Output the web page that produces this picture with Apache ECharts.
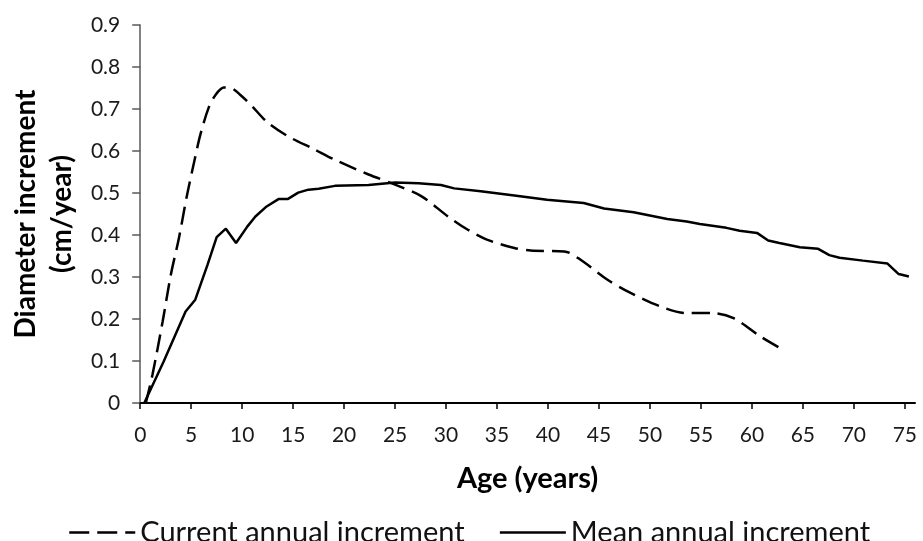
<!DOCTYPE html>
<html>
<head>
<meta charset="utf-8">
<script src="https://cdn.jsdelivr.net/npm/echarts@6/dist/echarts.min.js"></script>
<style>html,body{margin:0;padding:0;background:#fff}#c{width:923px;height:541px}</style>
</head>
<body>
<div id="c"></div>
<script>
const caiAges = [0.55, 1.2, 2.2, 3.0, 3.8, 4.6, 5.3, 5.9, 6.7, 7.4, 8.2, 8.9, 9.8, 11, 12.4, 14.5, 17, 19.1, 22.4, 25, 27.6, 30.2, 32.1, 34, 36.7, 38.3, 41.6, 43.2, 45.8, 48.1, 51, 53.6, 56.2, 58.2, 60.8, 62.6];
const caiValues = [0, 0.067, 0.194, 0.305, 0.393, 0.496, 0.575, 0.639, 0.702, 0.734, 0.751, 0.75, 0.734, 0.706, 0.67, 0.635, 0.605, 0.579, 0.544, 0.52, 0.492, 0.444, 0.413, 0.389, 0.369, 0.363, 0.361, 0.341, 0.294, 0.262, 0.23, 0.214, 0.214, 0.202, 0.159, 0.133];
const maiAges = [0.4, 2.3, 4.45, 5.4, 6.6, 7.5, 8.4, 9.4, 10.5, 11.3, 12.4, 13.6, 14.5, 15.5, 16.5, 17.5, 19.1, 22.4, 25, 27.3, 29.5, 30.8, 33.4, 36.7, 39.9, 43.5, 45.5, 48.4, 51.7, 53.6, 54.9, 57.5, 58.8, 60.5, 61.6, 62.7, 64.7, 66.5, 67.6, 68.6, 70.9, 73.3, 74.4, 75.4];
const maiValues = [0, 0.099, 0.218, 0.246, 0.329, 0.395, 0.415, 0.381, 0.42, 0.444, 0.468, 0.486, 0.486, 0.501, 0.508, 0.51, 0.517, 0.519, 0.525, 0.523, 0.519, 0.511, 0.504, 0.494, 0.484, 0.476, 0.463, 0.454, 0.438, 0.432, 0.426, 0.417, 0.41, 0.405, 0.387, 0.381, 0.371, 0.367, 0.352, 0.346, 0.339, 0.332, 0.307, 0.301];
const xTicks = [0, 5, 10, 15, 20, 25, 30, 35, 40, 45, 50, 55, 60, 65, 70, 75];
const seriesNames = ['Current annual increment', 'Mean annual increment'];
const xTitle = 'Age (years)';
const yTitle = 'Diameter increment\n(cm/year)';

const FONT = 'Lato';
const chart = echarts.init(document.getElementById('c'), null, {renderer: 'canvas'});
chart.setOption({
  animation: false,
  textStyle: {fontFamily: FONT},
  grid: {left: 138, right: 8, top: 25, bottom: 138, containLabel: false},
  legend: {
    left: 63, top: 513,
    itemWidth: 66, itemHeight: 14, itemGap: 34,
    itemStyle: {color: 'rgba(0,0,0,0)', borderWidth: 0, opacity: 0},
    textStyle: {fontFamily: FONT, fontSize: 29, color: '#111'},
    data: [
      {name: seriesNames[0], lineStyle: {type: [20, 8], width: 2.5, color: '#000'}},
      {name: seriesNames[1], lineStyle: {type: 'solid', width: 2.5, color: '#000'}}
    ]
  },
  xAxis: {
    type: 'value', min: 0, max: 76, interval: 5,
    name: xTitle, nameLocation: 'middle', nameGap: 61,
    nameTextStyle: {fontFamily: FONT, fontSize: 29, fontWeight: 'bold', color: '#000'},
    axisLine: {lineStyle: {color: '#000', width: 2}},
    axisTick: {show: true, length: 6, inside: false, lineStyle: {color: '#000', width: 1.5}, customValues: xTicks},
    axisLabel: {fontFamily: FONT, fontSize: 21, color: '#1a1a1a', margin: 22, customValues: xTicks},
    splitLine: {show: false}
  },
  yAxis: {
    type: 'value', min: 0, max: 0.9, interval: 0.1,
    name: yTitle, nameLocation: 'middle', nameGap: 58, nameRotate: 90,
    nameTextStyle: {fontFamily: FONT, fontSize: 28, fontWeight: 'bold', color: '#000', lineHeight: 36, align: 'center'},
    axisLine: {show: true, lineStyle: {color: '#595959', width: 1.5}},
    axisTick: {show: true, length: 8, lineStyle: {color: '#595959', width: 1.5}},
    axisLabel: {fontFamily: FONT, fontSize: 21, color: '#1a1a1a', margin: 20,
      formatter: v => v === 0 ? '0' : v.toFixed(1)},
    splitLine: {show: false}
  },
  series: [
    {
      name: seriesNames[0], type: 'line', symbol: 'none', smooth: 0.3,
      lineStyle: {color: '#000', width: 2.5, type: [18, 8]},
      itemStyle: {color: '#000'},
      data: caiAges.map((a, i) => [a, caiValues[i]])
    },
    {
      name: seriesNames[1], type: 'line', symbol: 'none', smooth: false,
      lineStyle: {color: '#000', width: 2.5, type: 'solid'},
      itemStyle: {color: '#000'},
      data: maiAges.map((a, i) => [a, maiValues[i]])
    }
  ]
});
</script>
</body>
</html>
